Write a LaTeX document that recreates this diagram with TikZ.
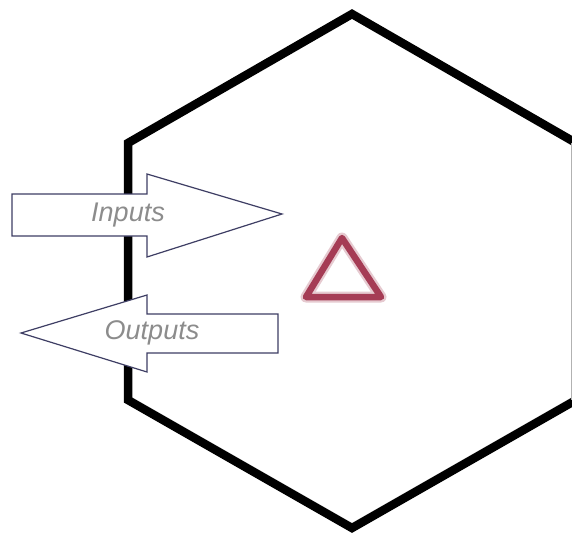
\documentclass[tikz,border=0pt]{standalone}
\usepackage{fontspec}
\setmainfont{Liberation Sans}
\definecolor{arrowline}{RGB}{62,62,100}
\definecolor{labelgray}{RGB}{140,140,140}
\definecolor{tri}{RGB}{165,60,85}
\tikzset{
  hexline/.style={line width=8.5pt, black, line join=miter},
  arrowbox/.style={draw=arrowline, line width=1.2pt, fill=white, line join=miter},
  arrowlabel/.style={text=labelgray, font=\itshape\fontsize{27}{27}\selectfont, inner sep=0pt},
}
\begin{document}
\begin{tikzpicture}[x=1pt,y=-1pt]
\useasboundingbox (0,0) rectangle (572,536);
\clip (0,0) rectangle (572,536);
\fill[white] (0,0) rectangle (572,536);
% hexagon
\draw[hexline] (352,14) -- (576,143) -- (576,400) -- (352,528) -- (128,400) -- (128,143) -- cycle;
\draw[gray!60, line width=0.8pt] (571.5,143) -- (571.5,400);
% inputs arrow
\draw[arrowbox] (12,194) -- (147,194) -- (147,174) -- (282,214) -- (147,257) -- (147,236) -- (12,236) -- cycle;
\node[arrowlabel] (inputs) at (128,215) {Inputs};
% outputs arrow
\draw[arrowbox] (278,314) -- (147,314) -- (147,295) -- (21,333) -- (147,372) -- (147,353) -- (278,353) -- cycle;
\node[arrowlabel] (outputs) at (152,333) {Outputs};
% triangle
\draw[tri!45, line width=11pt, line join=round, opacity=0.6] (342,238) -- (381,297) -- (306,297) -- cycle;
\draw[tri, line width=6.5pt, line join=round] (342,238) -- (381,297) -- (306,297) -- cycle;
\end{tikzpicture}
\end{document}
